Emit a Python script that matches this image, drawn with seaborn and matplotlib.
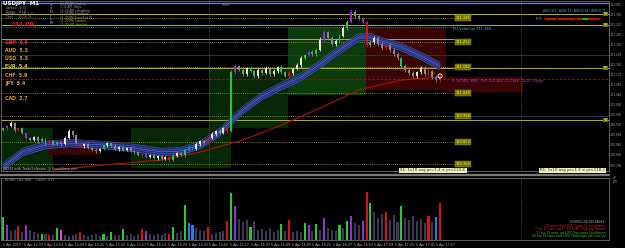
import matplotlib
matplotlib.use("Agg")
import matplotlib.pyplot as plt
import seaborn as sns
import numpy as np
import pandas as pd

# ---------------- data ----------------
first_open = 110.900
closes = [
    110.908, 110.916, 110.928, 110.900, 110.908, 110.888, 110.868, 110.860, 110.872, 110.856,
    110.864, 110.848, 110.856, 110.844, 110.852, 110.844, 110.868, 110.896, 110.880, 110.848,
    110.836, 110.844, 110.828, 110.820, 110.816, 110.824, 110.840, 110.848, 110.836, 110.824,
    110.832, 110.820, 110.828, 110.816, 110.812, 110.800, 110.804, 110.792, 110.800, 110.788,
    110.796, 110.784, 110.792, 110.780, 110.796, 110.808, 110.800, 110.820, 110.832, 110.824,
    110.844, 110.856, 110.848, 110.868, 110.884, 110.896, 110.888, 110.908, 110.896, 111.132,
    111.156, 111.140, 111.124, 111.148, 111.136, 111.116, 111.140, 111.128, 111.148, 111.124,
    111.136, 111.152, 111.132, 111.116, 111.128, 111.144, 111.160, 111.188, 111.200, 111.212,
    111.204, 111.220, 111.260, 111.292, 111.268, 111.244, 111.256, 111.276, 111.308, 111.332,
    111.372, 111.356, 111.348, 111.332, 111.240, 111.252, 111.268, 111.244, 111.228, 111.240,
    111.220, 111.204, 111.188, 111.156, 111.140, 111.128, 111.116, 111.132, 111.148, 111.124,
    111.136, 111.112, 111.100, 111.116]
hi_wick = [
    5, 4, 7, 5, 3, 6, 4, 6, 5, 3,
    7, 4, 6, 3, 5, 4, 8, 10, 5, 4,
    6, 3, 5, 4, 7, 3, 6, 5, 4, 8,
    3, 5, 4, 6, 3, 5, 4, 7, 3, 5,
    4, 6, 3, 5, 8, 4, 6, 5, 7, 4,
    8, 5, 6, 4, 7, 5, 9, 6, 8, 10,
    8, 6, 9, 5, 7, 6, 8, 5, 7, 6,
    9, 5, 8, 6, 7, 5, 9, 8, 6, 10,
    7, 8, 12, 9, 6, 8, 7, 10, 9, 8,
    14, 8, 7, 6, 4, 8, 7, 10, 8, 6,
    9, 7, 8, 6, 9, 7, 8, 6, 10, 7,
    9, 6, 8, 7]
lo_wick = [
    4, 6, 3, 7, 5, 4, 6, 3, 5, 7,
    4, 6, 3, 5, 4, 6, 3, 5, 7, 4,
    5, 6, 4, 3, 6, 5, 4, 7, 3, 5,
    6, 4, 5, 3, 7, 4, 6, 3, 5, 4,
    6, 5, 4, 7, 3, 5, 4, 6, 3, 5,
    4, 6, 5, 3, 4, 6, 3, 5, 6, 4,
    7, 5, 6, 8, 5, 7, 6, 9, 5, 6,
    8, 6, 7, 5, 9, 6, 5, 7, 6, 5,
    8, 6, 5, 7, 9, 6, 8, 7, 5, 6,
    5, 7, 8, 6, 9, 7, 6, 8, 7, 9,
    6, 8, 7, 9, 6, 8, 7, 9, 6, 8,
    7, 6, 8, 7]
tick_volume = [
    23, 15, 9, 10, 14, 8, 15, 10, 8, 7,
    6, 6, 5, 5, 12, 10, 5, 4, 5, 6,
    8, 5, 4, 5, 6, 4, 6, 4, 8, 5,
    5, 11, 5, 6, 4, 6, 11, 9, 6, 5,
    6, 5, 7, 6, 13, 7, 9, 35, 17, 15,
    12, 10, 9, 13, 6, 7, 8, 9, 19, 47,
    34, 21, 18, 20, 13, 19, 10, 11, 9, 12,
    8, 10, 16, 9, 20, 8, 9, 8, 17, 15,
    9, 16, 10, 22, 12, 10, 9, 15, 12, 19,
    24, 17, 15, 19, 48, 37, 28, 22, 26, 28,
    20, 25, 18, 34, 22, 20, 24, 19, 21, 17,
    24, 18, 23, 37]
bar_signal = ("gpnnrnpnnn" "gnrngmnnnn" "rnnnnngngn" "ngnnnnrpnn" "nnnrgnngbb"
              "nnnrnnnnrg" "pnnngnnnnn" "nngnrnnngp" "ngnpnnngng" "pnnprgnnnr"
              "nnngnnnnnn" "rnbr")

# moving-average band (fast) and slow MA, sampled at bar indexes
band_bars = [0, 5, 11, 17, 26, 34, 41, 46, 51, 56, 62, 67, 72, 77, 82, 87, 92, 95, 97, 103, 108, 113]
band_ma = [110.752, 110.812, 110.840, 110.848, 110.840, 110.828, 110.812, 110.816, 110.840, 110.892,
           110.980, 111.036, 111.076, 111.112, 111.164, 111.220, 111.272, 111.272, 111.260, 111.232,
           111.196, 111.156]
slow_bars = [13, 26, 41, 51, 62, 72, 82, 92, 103, 113]
slow_ma = [110.740, 110.760, 110.780, 110.812, 110.860, 110.920, 110.988, 111.060, 111.100, 111.112]

# session zones: (start minute, end minute, low, high, colour)
zone_start = [-1.5, 99, 160, 221, 281.5, 343.5, 35]
zone_end = [39, 177, 221, 281.5, 343.5, 403, 76]
zone_low = [110.748, 110.748, 110.908, 111.040, 111.060, 111.052, 110.800]
zone_high = [110.908, 110.908, 111.148, 111.312, 111.312, 111.112, 110.840]
zone_color = ["#062806", "#062806", "#062806", "#0c3c0c", "#3a0505", "#3a0505", "#3a0505"]

solid_levels = [111.364, 111.320, 111.148, 110.940]
solid_tags = ["R3", "R2", "PP", "S1"]
dotted_levels = [111.348, 111.252, 111.152, 111.048, 110.956, 110.852, 110.764]
purple_level = 111.408
white_level = 111.264
grey_level = 111.200
red_dash_level = 111.104
cyan_level = 111.312
session_lines = [160, 402]

strength_ccy = ["GBP", "AUD", "USD", "EUR", "CHF", "JPY", "CAD"]
strength_val = [5.9, 5.3, 5.3, 5.4, 5.9, 5.4, 2.7]
strength_row = [42, 51, 59, 67, 75, 83, 99]
strength_col = ["#e02828", "#d8a030", "#d8a030", "#d8d020", "#d8a030", "#d8a030", "#d8a030"]

meter_colors = ["#e01010", "#e01010", "#e01010", "#e01010", "#e01010", "#e01010", "#20d020", "#e01010", "#e01010"]

tick_labels = ["5 Apr 2017", "5 Apr 12:37", "5 Apr 12:53", "5 Apr 13:09", "5 Apr 13:25", "5 Apr 13:41",
               "5 Apr 13:57", "5 Apr 14:13", "5 Apr 14:29", "5 Apr 14:45", "5 Apr 15:01", "5 Apr 15:17",
               "5 Apr 15:33", "5 Apr 15:49", "5 Apr 16:05", "5 Apr 16:21", "5 Apr 16:37", "5 Apr 16:53",
               "5 Apr 17:09", "5 Apr 17:25", "5 Apr 17:41", "5 Apr 17:57"]

sessions = ["12:30 AM  Sydney", "1:30 AM  Tokyo", "12:30 AM  HongKong", "11:30 PM  Frankfurt",
            "11:30 PM  Frankfurt LE", "11:30 PM  London", "11:30 AM  NewYork"]
session_col = ["#a0a0a0", "#a0a0a0", "#a0a0a0", "#a0a0a0", "#a0a0a0", "#e0a020", "#30d030"]

releases = ["SCHEDULED RELEASES:",
            "28 mins since USD Crude Oil Inventories",
            "2 hrs 45 mins until USD FOMC Meeting Minutes",
            "13 hrs 15 mins until JPY Consumer Confidence",
            "26 hrs 35 mins until USD Challenger Job Cuts y/y"]
release_col = ["#b0b0b0", "#e02020", "#e02020", "#30d030", "#30d030"]

# ---------------- style ----------------
sns.set_theme(style="dark")
plt.rcParams["font.family"] = ["DejaVu Sans"]
plt.rcParams["axes.facecolor"] = "black"
plt.rcParams["figure.facecolor"] = "black"

W, H = 625, 248
fig = plt.figure(figsize=(6.25, 2.48), dpi=100, facecolor="black")
ax = fig.add_axes([0.0016, 1 - 171 / H, 609 / W - 0.0016, 170 / H])
axv = fig.add_axes([0.0016, 1 - 240 / H, 609 / W - 0.0016, 62 / H])
XL = (-1.5, 470)
MIN_PER_BAR = 3

n = len(closes)
df = pd.DataFrame({"t": np.arange(n) * MIN_PER_BAR, "close": closes,
                   "open": [first_open] + closes[:-1], "hw": hi_wick, "lw": lo_wick,
                   "vol": tick_volume, "sig": list(bar_signal)})
df["top"] = df[["open", "close"]].max(axis=1)
df["bot"] = df[["open", "close"]].min(axis=1)
df["high"] = df["top"] + df["hw"] * 0.001
df["low"] = df["bot"] - df["lw"] * 0.001

sig_col = {"g": "#25c83a", "r": "#e01010", "p": "#9030d0", "b": "#2080e0", "m": "#e040e0", "n": "#3a3a58"}

# ---------------- price panel ----------------
ax.set_facecolor("black")
for s, e, lo, hi, c in zip(zone_start, zone_end, zone_low, zone_high, zone_color):
    ax.fill_between([s, e], lo, hi, color=c, lw=0, zorder=0)

ax.axhline(purple_level, color="#7a7ad8", lw=0.9, zorder=1)
for lv in solid_levels:
    ax.axhline(lv, color="#b4b400", lw=0.7, zorder=1)
for lv in dotted_levels:
    ax.hlines(lv, XL[0], 350, color="#a8a800", lw=0.6, ls=(0, (1, 1.5)), zorder=1)
ax.hlines(white_level, XL[0], 350, color="#b8b8b8", lw=0.6, zorder=1)
ax.axhline(grey_level, color="#383838", lw=0.6, zorder=1)
ax.axhline(red_dash_level, color="#8a2020", lw=0.6, ls=(0, (3, 2)), zorder=1)
ax.hlines(cyan_level, XL[0], 350, color="#20a0a0", lw=0.6, ls=(0, (1, 1.5)), zorder=1)
ax.hlines(dotted_levels[4], 343, XL[1], color="#203a70", lw=0.7, zorder=1)
for m in session_lines:
    ax.axvline(m, color="#606060", lw=0.6, ls=(0, (1, 1.5)), zorder=1)
    axv.axvline(m, color="#606060", lw=0.6, ls=(0, (1, 1.5)), zorder=1)

# MA band
bx = np.array(band_bars) * MIN_PER_BAR
bm = np.array(band_ma)
ax.fill_between(bx, bm - 0.015, bm + 0.015, color="#1e2a78", lw=0, zorder=2)
for off in (-0.015, -0.007, 0.0, 0.007, 0.015):
    sns.lineplot(x=bx, y=bm + off, ax=ax, color="#5566c0" if off else "#8090e0",
                 lw=0.35, zorder=3, legend=False)
sns.lineplot(x=np.array(slow_bars) * MIN_PER_BAR, y=slow_ma, ax=ax, color="#b01010",
             lw=0.8, zorder=3, legend=False)

# candles
ccol = [sig_col[s] if s != "n" else ("#e6e6e6" if c >= o else "#8a8a8a")
        for s, c, o in zip(df["sig"], df["close"], df["open"])]
ax.vlines(df["t"], df["low"], df["high"], colors=ccol, lw=0.6, zorder=4)
ax.bar(df["t"], (df["top"] - df["bot"]).clip(lower=0.0015), bottom=df["bot"], width=1.5,
       color=ccol, lw=0, zorder=5)
ax.scatter([df["t"].iloc[-1]], [df["close"].iloc[-1]], s=9, facecolors="none",
           edgecolors="white", lw=0.6, zorder=6)

ax.set_xlim(*XL)
ax.set_ylim(110.736, 111.416)
ax.yaxis.tick_right()
yt = np.arange(110.76, 111.41, 0.04)
ax.set_yticks(yt)
ax.set_yticklabels([f"{v:.3f}" for v in yt])
ax.tick_params(axis="y", labelsize=2.0, colors="#a8a8a8", length=1.0, width=0.4, pad=0.6)
ax.set_xticks([])
for sp in ax.spines.values():
    sp.set_color("#707070")
    sp.set_linewidth(0.6)

# level labels
for lv in dotted_levels:
    ax.text(351, lv, f"{lv:.3f}", fontsize=2.6, color="#f4f460", va="center", ha="left",
            bbox=dict(boxstyle="square,pad=0.15", fc="#6e6e00", ec="#a0a000", lw=0.3), zorder=7)
for lv, tg in zip(solid_levels, solid_tags):
    ax.text(469, lv, tg, fontsize=2.4, color="#f4f460", va="center", ha="right",
            bbox=dict(boxstyle="square,pad=0.1", fc="#6e6e00", ec="none"), zorder=7)

# texts in price panel
tr = fig.transFigure
def T(px, py, s, **kw):
    fig.text(px / W, 1 - py / H, s, **kw)

T(3, 4, "USDJPY  M1", fontsize=4.0, color="white", fontweight="bold", va="center")
info = ["Spread:   0.20", "Range:    57.8", "Swaps:   1.28/-2.11", "Time:     15:36:09"]
for k, s in enumerate(info):
    T(6, 8.5 + k * 3.0, s, fontsize=2.1, color="#909090", va="center")
T(11, 24.5, "111.09", fontsize=4.2, color="#ff1010", fontweight="bold", va="center")
T(34, 26, "6", fontsize=2.4, color="#ff1010", va="center")
for k, ch in enumerate("STHFLN"):
    T(50, 5 + k * 3.6, ch, fontsize=2.4, color="#7070d0", va="center", fontweight="bold")
for k, (s, c) in enumerate(zip(sessions, session_col)):
    T(60, 3.5 + k * 3.6, s, fontsize=2.1, color=c, va="center")
T(222, 5, "RGN", fontsize=2.5, color="#909090", va="center")
for cc, vv, rr, col in zip(strength_ccy, strength_val, strength_row, strength_col):
    T(5, rr, f"{cc}  {vv}", fontsize=3.4, color=col, fontweight="bold", va="center")
T(453, 29, "[5] Volatility 111.380", fontsize=2.6, color="#40c8e8", va="center")
T(452, 81, "S: 97/101  88%   PVT 111.161..111.154   1x10  20pips", fontsize=2.4,
  color="#b040d0", va="center")
T(543, 11, "ADR 58.2   ADR5 54   ADR10 62   ADR20 71", fontsize=2.1, color="#5aa0d8", va="center")
T(536, 19, "EUR", fontsize=2.4, color="#8080d0", va="center")
for k, c in enumerate(meter_colors):
    fig.add_artist(plt.Line2D([(545 + k * 6.3) / W, (550 + k * 6.3) / W],
                              [1 - 19 / H, 1 - 19 / H], color=c, lw=1.2, transform=tr))
T(3, 168.5, "FXSSI with TradeSoftware @ ForexPorts.com", fontsize=2.4, color="#c0c0c0", va="center")
T(400, 170.5, "S1: 1x10 avg pr=1.4 \u2248 pr=110.8 ", fontsize=2.8, color="#303010", va="center",
  bbox=dict(boxstyle="square,pad=0.2", fc="#f0f0b8", ec="none"))
T(540, 170.5, "R1: 1x10 avg pr=1.3 \u2248 pr=118.2", fontsize=2.8, color="#303010", va="center",
  bbox=dict(boxstyle="square,pad=0.2", fc="#f0f0b8", ec="none"))

# separator
fig.add_artist(plt.Line2D([0, 609 / W], [1 - 174.5 / H] * 2, color="#7a7a7a", lw=1.6, transform=tr))

# ---------------- volume panel ----------------
axv.set_facecolor("black")
axv.bar(df["t"], df["vol"], width=1.6, color=[sig_col[s] for s in df["sig"]], lw=0, zorder=3)
axv.set_xlim(*XL)
axv.set_ylim(0, 62)
axv.set_yticks([])
axv.set_xticks(np.arange(len(tick_labels)) * 16)
axv.set_xticklabels(tick_labels, ha="left")
axv.tick_params(axis="x", labelsize=2.3, colors="#b0b0b0", length=1.2, width=0.4, pad=1)
for sp in axv.spines.values():
    sp.set_color("#707070")
    sp.set_linewidth(0.6)
T(5, 180, "Broker Tick Vols    Count: 411", fontsize=2.4, color="#a0a0a0", va="center")
for k, (s, c) in enumerate(zip(releases, release_col)):
    T(606, 222 + k * 3.6, s, fontsize=2.2, color=c, va="center", ha="right")
T(613, 178, "47", fontsize=2.2, color="#a8a8a8", va="center")
T(613, 182, "0/0", fontsize=2.2, color="#a8a8a8", va="center")

fig.savefig("out.png", dpi=100, facecolor="black")
